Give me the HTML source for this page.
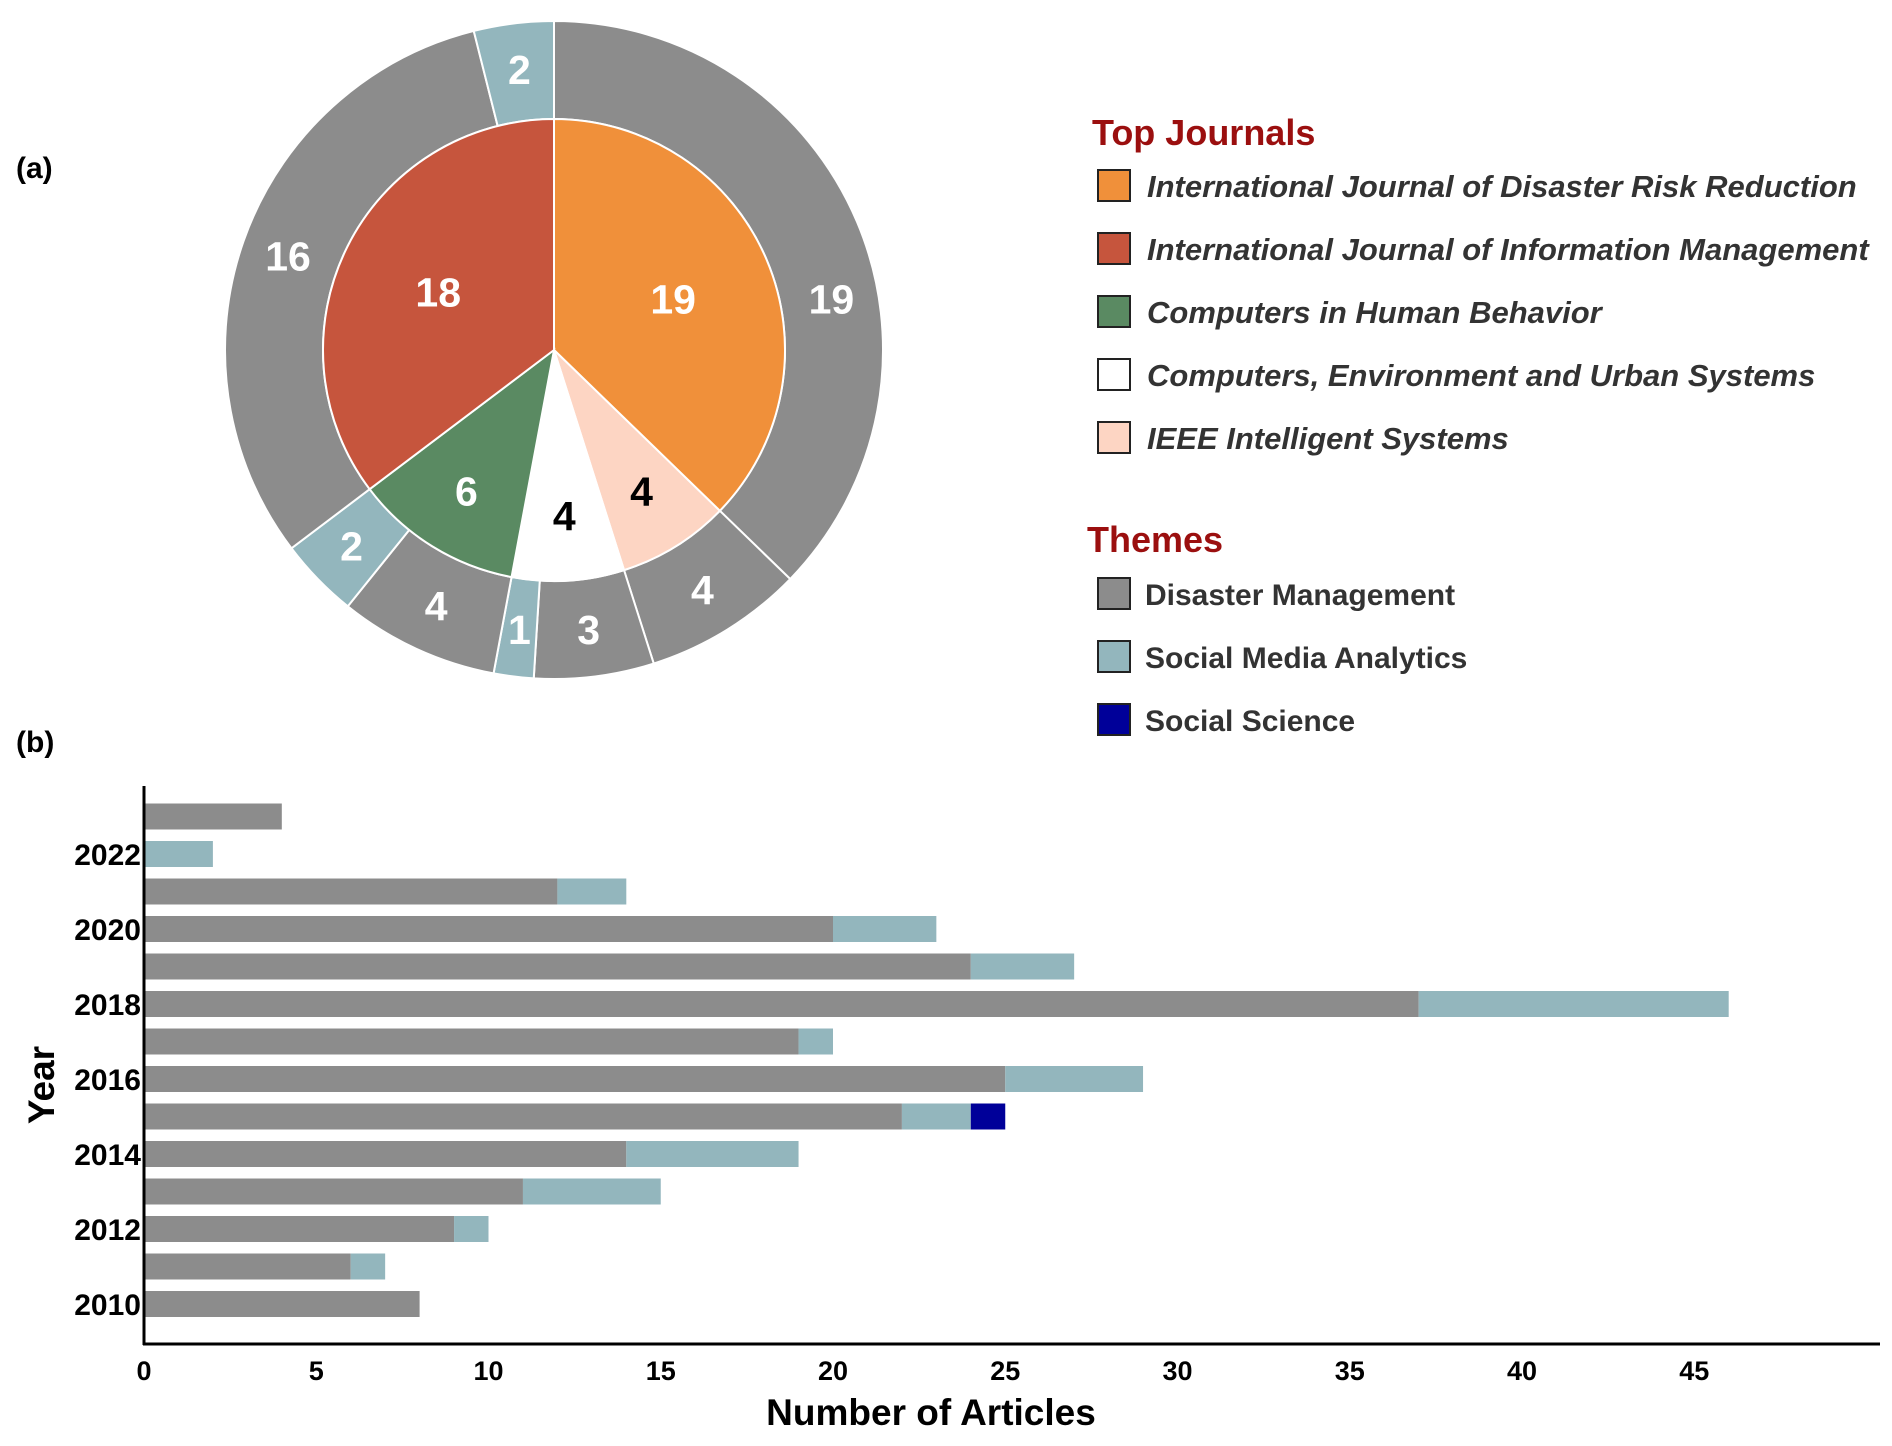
<!DOCTYPE html>
<html><head><meta charset="utf-8"><style>
html,body{margin:0;padding:0;background:#fff;}
svg{display:block;font-family:"Liberation Sans",Arial,sans-serif;}
</style></head><body>
<svg id="chart" width="1892" height="1446" viewBox="0 0 1892 1446" xmlns="http://www.w3.org/2000/svg">
<text x="16" y="178" font-size="30" font-weight="bold">(a)</text>
<text x="16" y="752" font-size="30" font-weight="bold">(b)</text>
<g id="pie"></g>
<g id="legend"></g>
<g id="bars"></g>
</svg>
<script>
const NS='http://www.w3.org/2000/svg';
// Pie data
const journalNames=['International Journal of Disaster Risk Reduction','International Journal of Information Management','Computers in Human Behavior','Computers, Environment and Urban Systems','IEEE Intelligent Systems'];
const journalColors=['#f0903a','#c6553d','#5a8a62','#ffffff','#fdd5c3'];
// inner ring clockwise from top
const innerLabels=['19','4','4','6','18'];
const innerValues=[19,4,4,6,18];
const innerColors=['#f0903a','#fdd5c3','#ffffff','#5a8a62','#c6553d'];
const innerTextColors=['#fff','#000','#000','#fff','#fff'];
// outer ring clockwise from top
const outerValues=[19,4,3,1,4,2,16,2];
const outerThemes=['DM','DM','DM','SMA','DM','SMA','DM','SMA'];
const themeNames=['Disaster Management','Social Media Analytics','Social Science'];
const themeColors={DM:'#8c8c8c',SMA:'#93b6bd',SS:'#000099'};
// Bar data
const years=[2010,2011,2012,2013,2014,2015,2016,2017,2018,2019,2020,2021,2022,2023];
const dmValues=[8,6,9,11,14,22,25,19,37,24,20,12,0,4];
const smaValues=[0,1,1,4,5,2,4,1,9,3,3,2,2,0];
const ssValues=[0,0,0,0,0,1,0,0,0,0,0,0,0,0];
const xTicks=[0,5,10,15,20,25,30,35,40,45];
const yTickYears=[2010,2012,2014,2016,2018,2020,2022];

function mk(tag,attrs,parent){const e=document.createElementNS(NS,tag);for(const k in attrs)e.setAttribute(k,attrs[k]);parent.appendChild(e);return e;}
const cx=554,cy=350,R=329,Ri=231;
function pt(a,r){return [cx+r*Math.sin(a),cy-r*Math.cos(a)];}
function arc(a0,a1,r0,r1){
  const large=(a1-a0)>Math.PI?1:0;
  const p0=pt(a0,r1),p1=pt(a1,r1);
  if(r0===0){return `M${cx},${cy}L${p0}A${r1},${r1} 0 ${large} 1 ${p1}Z`;}
  const q1=pt(a1,r0),q0=pt(a0,r0);
  return `M${p0}A${r1},${r1} 0 ${large} 1 ${p1}L${q1}A${r0},${r0} 0 ${large} 0 ${q0}Z`;
}
const pie=document.getElementById('pie');
let tot=outerValues.reduce((a,b)=>a+b,0),acc=0;
outerValues.forEach((v,i)=>{
  const a0=acc/tot*2*Math.PI;acc+=v;const a1=acc/tot*2*Math.PI;
  const p=mk('path',{d:arc(a0,a1,Ri,R),fill:themeColors[outerThemes[i]],stroke:'#fff','stroke-width':2},pie);
  
  
  let am=(a0+a1)/2; if(i===0) am+=0.22;
  const [x,y]=pt(am,(R+Ri)/2+2);
  const t=mk('text',{x:x,y:y+14,'text-anchor':'middle','font-size':41,'font-weight':'bold',fill:'#fff'},pie);t.textContent=String(v);
  
  
});
tot=innerValues.reduce((a,b)=>a+b,0);acc=0;
innerValues.forEach((v,i)=>{
  const a0=acc/tot*2*Math.PI;acc+=v;const a1=acc/tot*2*Math.PI;
  const p=mk('path',{d:arc(a0,a1,0,Ri),fill:innerColors[i],stroke:'#fff','stroke-width':2},pie);
  
  
  const [x,y]=pt((a0+a1)/2,Ri*(v>10?0.56:0.72));
  const t=mk('text',{x:x,y:y+14,'text-anchor':'middle','font-size':41,'font-weight':'bold',fill:innerTextColors[i]},pie);t.textContent=innerLabels[i];
  
  
});
// Legend
const lg=document.getElementById('legend');
let h=mk('text',{x:1092,y:145,'font-size':36,'font-weight':'bold',fill:'#9b0f0f'},lg);h.textContent='Top Journals';


journalNames.forEach((n,i)=>{
  const y=186+i*63;
  const r=mk('rect',{x:1098,y:y-16,width:32,height:31,fill:journalColors[i],stroke:'#222','stroke-width':2},lg);
  
  
  const t=mk('text',{x:1147,y:y+11,'font-size':31,'font-weight':'bold','font-style':'italic',fill:'#333'},lg);t.textContent=n;
  
  
});
h=mk('text',{x:1087,y:552,'font-size':36,'font-weight':'bold',fill:'#9b0f0f'},lg);h.textContent='Themes';


['DM','SMA','SS'].forEach((k,i)=>{
  const y=594+i*63;
  const r=mk('rect',{x:1098,y:y-16,width:32,height:31,fill:themeColors[k],stroke:'#222','stroke-width':2},lg);
  
  
  const t=mk('text',{x:1145,y:y+11,'font-size':30,'font-weight':'bold',fill:'#333'},lg);t.textContent=themeNames[i];
  
  
});
// Bars
const bg=document.getElementById('bars');
const x0=144,xu=34.45;
const xs=v=>x0+v*xu;
const ys=yr=>1304-(yr-2010)*37.5;
const bh=26;
years.forEach((yr,i)=>{
  const y=ys(yr)-bh/2;let s=0;
  [[dmValues,'DM'],[smaValues,'SMA'],[ssValues,'SS']].forEach(([arr,k])=>{
    const v=arr[i];if(v>0){
      const r=mk('rect',{x:xs(s),y:y,width:xs(s+v)-xs(s),height:bh,fill:themeColors[k]},bg);
      
      
    }s+=v;
  });
});
let l=mk('line',{x1:x0,y1:786,x2:x0,y2:1345,stroke:'#000','stroke-width':3},bg);


l=mk('line',{x1:x0-1,y1:1344,x2:1880,y2:1344,stroke:'#000','stroke-width':3},bg);


xTicks.forEach(v=>{
  const t=mk('text',{x:xs(v),y:1380,'text-anchor':'middle','font-size':27,'font-weight':'bold'},bg);t.textContent=String(v);
  
  
});
yTickYears.forEach(yr=>{
  const t=mk('text',{x:x0-3,y:ys(yr)+11,'text-anchor':'end','font-size':30,'font-weight':'bold'},bg);t.textContent=String(yr);
  
  
});
let t=mk('text',{x:931,y:1425,'text-anchor':'middle','font-size':37,'font-weight':'bold'},bg);t.textContent='Number of Articles';


t=mk('text',{x:54,y:1085,'text-anchor':'middle','font-size':37,'font-weight':'bold',transform:'rotate(-90 54 1085)'},bg);t.textContent='Year';


</script>
</body></html>
